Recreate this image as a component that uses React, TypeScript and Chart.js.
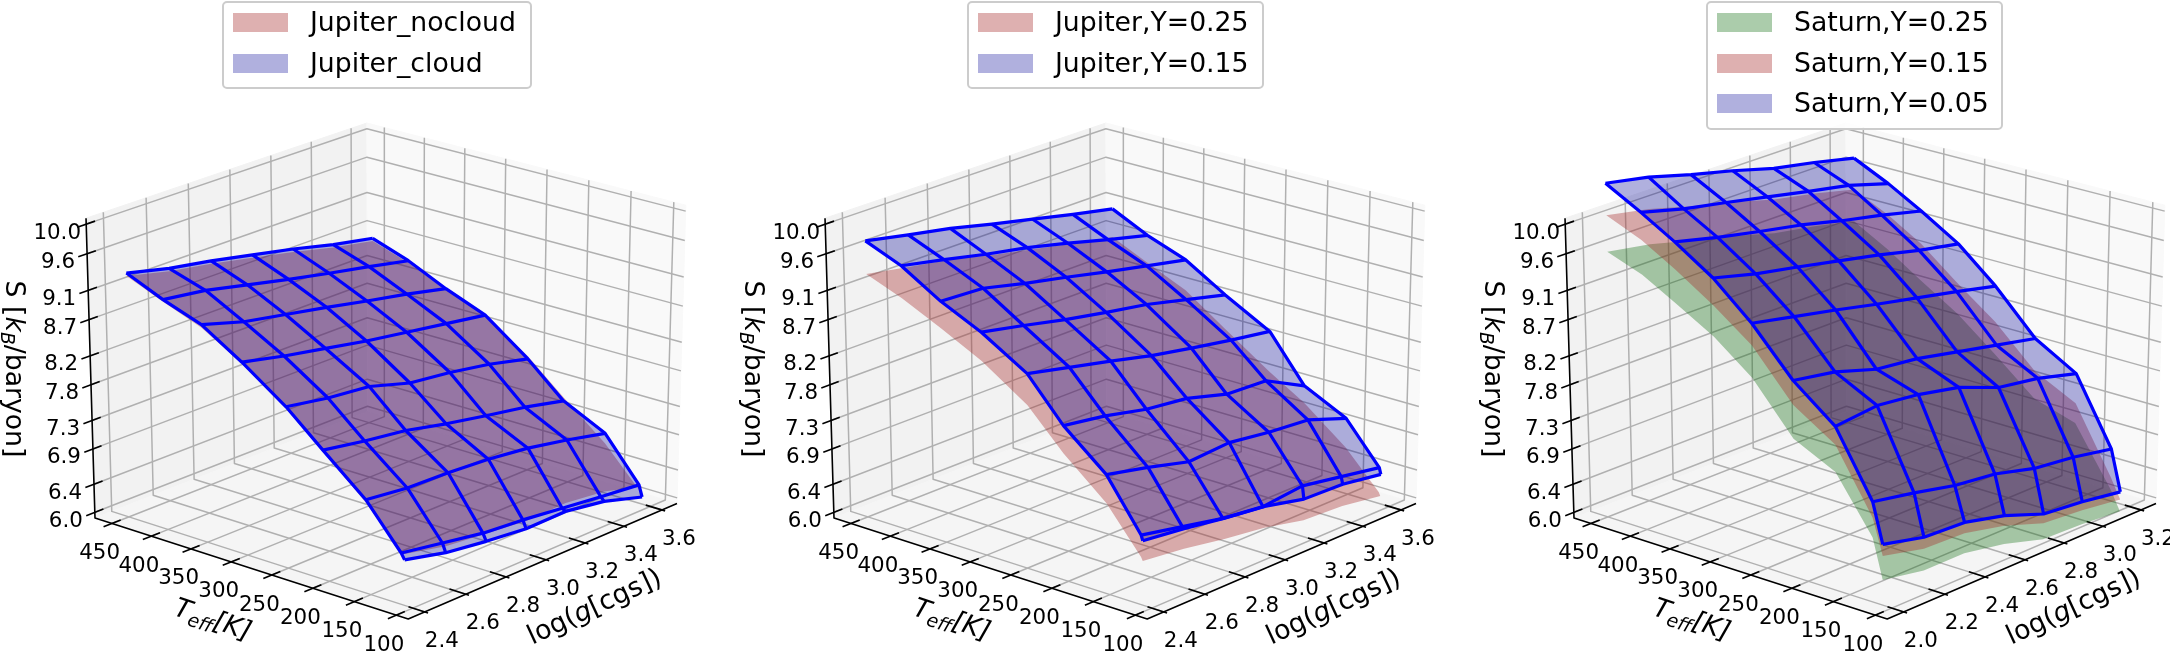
import { useEffect, useRef } from 'react';
import { Chart, registerables } from 'chart.js';

Chart.register(...registerables);

const sTicks = ['10.0', '9.6', '9.1', '8.7', '8.2', '7.8', '7.3', '6.9', '6.4', '6.0'];
const teffTicks = [450, 400, 350, 300, 250, 200, 150, 100];
const loggJupiter = [2.4, 2.6, 2.8, 3.0, 3.2, 3.4, 3.6];
const loggSaturn = [2.0, 2.2, 2.4, 2.6, 2.8, 3.0, 3.2];

const teffPanel1 = [445, 400, 353, 304, 251, 207, 156, 114, 110];
const teffPanel2 = [444, 400, 352, 303, 248, 205, 154, 113, 111];
const teffPanel3 = [442, 399, 358, 312, 266, 217, 167, 123, 111];

const jupiterNocloud = [
  [9.30, 9.16, 9.06, 8.94, 8.82, 8.68, 8.57],
  [9.09, 9.02, 8.88, 8.76, 8.63, 8.52, 8.40],
  [8.89, 8.72, 8.62, 8.51, 8.40, 8.29, 8.16],
  [8.56, 8.44, 8.33, 8.23, 8.13, 8.05, 7.96],
  [8.15, 8.05, 8.00, 7.85, 7.78, 7.69, 7.55],
  [7.70, 7.61, 7.53, 7.41, 7.32, 7.22, 7.11],
  [7.17, 7.08, 7.05, 6.99, 6.90, 6.77, 6.63],
  [6.65, 6.54, 6.42, 6.36, 6.27, 6.19, 6.11],
  [6.63, 6.50, 6.44, 6.38, 6.40, 6.33, 6.17],
];
const jupiterCloud = [
  [9.34, 9.20, 9.10, 8.98, 8.86, 8.72, 8.61],
  [9.12, 9.04, 8.91, 8.78, 8.66, 8.55, 8.43],
  [8.93, 8.76, 8.65, 8.54, 8.42, 8.31, 8.18],
  [8.58, 8.45, 8.34, 8.23, 8.14, 8.05, 7.96],
  [8.15, 8.05, 7.99, 7.82, 7.75, 7.65, 7.51],
  [7.71, 7.61, 7.53, 7.40, 7.29, 7.19, 7.06],
  [7.21, 7.14, 7.12, 7.08, 7.01, 6.90, 6.77],
  [6.63, 6.53, 6.43, 6.38, 6.31, 6.24, 6.18],
  [6.55, 6.41, 6.33, 6.27, 6.28, 6.19, 6.02],
];
const jupiterY25 = [
  [9.33, 9.22, 9.12, 8.98, 8.86, 8.74, 8.63],
  [9.14, 9.04, 8.91, 8.81, 8.67, 8.53, 8.40],
  [8.88, 8.84, 8.70, 8.56, 8.43, 8.30, 8.16],
  [8.60, 8.46, 8.32, 8.19, 8.08, 7.93, 7.77],
  [8.18, 8.04, 7.88, 7.72, 7.58, 7.46, 7.34],
  [7.67, 7.60, 7.50, 7.45, 7.31, 7.30, 7.04],
  [7.17, 7.03, 6.88, 6.91, 6.83, 6.78, 6.58],
  [6.58, 6.45, 6.32, 6.24, 6.29, 6.18, 6.08],
  [6.53, 6.46, 6.36, 6.28, 6.15, 6.12, 6.03],
];
const jupiterY15 = [
  [9.78, 9.66, 9.55, 9.41, 9.28, 9.15, 9.03],
  [9.58, 9.46, 9.33, 9.22, 9.08, 8.93, 8.79],
  [9.25, 9.22, 9.08, 8.96, 8.83, 8.71, 8.59],
  [8.99, 8.87, 8.74, 8.63, 8.53, 8.39, 8.25],
  [8.61, 8.48, 8.35, 8.21, 8.10, 8.00, 7.91],
  [8.05, 7.96, 7.83, 7.76, 7.60, 7.57, 7.28],
  [7.56, 7.43, 7.28, 7.32, 7.24, 7.19, 6.99],
  [6.88, 6.76, 6.64, 6.57, 6.63, 6.53, 6.43],
  [6.81, 6.74, 6.65, 6.58, 6.45, 6.43, 6.34],
];
const saturnY25 = [
  [9.64, 9.54, 9.39, 9.25, 9.09, 8.99, 8.86],
  [9.46, 9.30, 9.18, 9.04, 8.90, 8.77, 8.59],
  [9.20, 9.03, 8.88, 8.75, 8.59, 8.44, 8.28],
  [8.90, 8.72, 8.58, 8.43, 8.27, 8.09, 7.95],
  [8.49, 8.33, 8.18, 8.01, 7.86, 7.70, 7.53],
  [7.83, 7.73, 7.53, 7.46, 7.32, 7.19, 7.06],
  [7.55, 7.60, 7.52, 7.38, 7.14, 7.04, 6.88],
  [6.81, 6.69, 6.54, 6.46, 6.30, 6.21, 6.09],
  [6.27, 6.16, 6.16, 6.05, 5.88, 5.86, 5.81],
];
const saturnY15 = [
  [10.13, 10.02, 9.86, 9.72, 9.56, 9.45, 9.31],
  [9.93, 9.77, 9.65, 9.52, 9.38, 9.25, 9.08],
  [9.66, 9.50, 9.36, 9.24, 9.09, 8.95, 8.80],
  [9.32, 9.14, 9.00, 8.85, 8.69, 8.52, 8.38],
  [8.93, 8.78, 8.63, 8.46, 8.31, 8.15, 7.99],
  [8.29, 8.18, 7.97, 7.88, 7.73, 7.59, 7.45],
  [7.92, 7.96, 7.86, 7.70, 7.46, 7.34, 7.16],
  [7.08, 6.94, 6.78, 6.68, 6.50, 6.40, 6.26],
  [6.60, 6.46, 6.44, 6.31, 6.11, 6.06, 5.98],
];
const saturnY05 = [
  [10.56, 10.45, 10.29, 10.15, 9.99, 9.88, 9.75],
  [10.30, 10.15, 10.04, 9.92, 9.80, 9.69, 9.52],
  [10.03, 9.89, 9.77, 9.66, 9.52, 9.40, 9.26],
  [9.69, 9.54, 9.43, 9.31, 9.19, 9.05, 8.94],
  [9.23, 9.11, 8.99, 8.86, 8.74, 8.62, 8.49],
  [8.62, 8.52, 8.34, 8.27, 8.15, 8.03, 7.91],
  [8.17, 8.23, 8.16, 8.04, 7.82, 7.73, 7.58],
  [7.30, 7.19, 7.06, 6.99, 6.84, 6.77, 6.66],
  [6.76, 6.62, 6.59, 6.45, 6.24, 6.18, 6.09],
];

const RED = 'rgba(165,42,42,.37)';
const BLUE = 'rgba(0,0,150,.31)';
const GREEN = 'rgba(0,100,0,.33)';

const panels = [
  {
    left: 0, logg: loggJupiter, teff: teffPanel1, wire: jupiterCloud,
    under: [{ s: jupiterNocloud, color: RED }],
    legendLeft: 222, legendWidth: 310,
    legend: [['Jupiter_nocloud', RED], ['Jupiter_cloud', BLUE]],
  },
  {
    left: 739, logg: loggJupiter, teff: teffPanel2, wire: jupiterY15,
    under: [{ s: jupiterY25, color: RED }],
    legendLeft: 967, legendWidth: 297,
    legend: [['Jupiter,Y=0.25', RED], ['Jupiter,Y=0.15', BLUE]],
  },
  {
    left: 1479, logg: loggSaturn, teff: teffPanel3, wire: saturnY05,
    under: [{ s: saturnY25, color: GREEN }, { s: saturnY15, color: RED }],
    legendLeft: 1706, legendWidth: 297,
    legend: [['Saturn,Y=0.25', GREEN], ['Saturn,Y=0.15', RED], ['Saturn,Y=0.05', BLUE]],
  },
];

// camera of the 3d box, same for all three panels
const ELEV = 25;
const AZIM = 221;
const DIST = 14;
const RAD = Math.PI / 180;
const TEFF_BOX = [86, 472];
const S_BOX = [5.92, 10.08];
const LOGG_PAD = 0.08;
const WIDTH = 700;
const HEIGHT = 656;
const FONT = '"DejaVu Sans"';

const n = [Math.cos(AZIM * RAD) * Math.cos(ELEV * RAD), Math.sin(AZIM * RAD) * Math.cos(ELEV * RAD), Math.sin(ELEV * RAD)];
const nLen = Math.hypot(n[0], n[1]);
const u = [-n[1] / nLen, n[0] / nLen, 0];
const v = [-n[2] * u[1], n[2] * u[0], n[0] * u[1] - n[1] * u[0]];

function view(x: number, y: number, z: number) {
  const p = [x - 0.5, y - 0.5, z - 0.5];
  const dot = (a: number[]) => a[0] * p[0] + a[1] * p[1] + a[2] * p[2];
  const w = DIST - dot(n);
  return { x: dot(u) / w, y: dot(v) / w };
}

// where the box corners fall in a panel decides the hidden scales' ranges
function scaleRanges() {
  const left = view(0, 1, 0);
  const right = view(1, 0, 0);
  const top = view(1, 1, 1);
  const front = view(0, 0, 0);
  const sx = (677 - 95) / (right.x - left.x);
  const cx = 95 - sx * left.x;
  const sy = (619 - 123) / (top.y - front.y);
  const cy = 619 + sy * front.y;
  return {
    x: { min: (0 - cx) / sx, max: (WIDTH - cx) / sx },
    y: { min: (cy - HEIGHT) / sy, max: cy / sy },
  };
}

type Run = { t: string; f: string; dy?: number };

function drawRuns(ctx: CanvasRenderingContext2D, x: number, y: number, angle: number, runs: Run[]) {
  ctx.save();
  ctx.translate(x, y);
  ctx.rotate(angle);
  ctx.textAlign = 'left';
  ctx.textBaseline = 'alphabetic';
  ctx.fillStyle = '#000';
  let width = 0;
  runs.forEach((r) => {
    ctx.font = r.f;
    width += ctx.measureText(r.t).width;
  });
  let at = -width / 2;
  runs.forEach((r) => {
    ctx.font = r.f;
    ctx.fillText(r.t, at, 9 + (r.dy ?? 0));
    at += ctx.measureText(r.t).width;
  });
  ctx.restore();
}

function Panel({ panel }: { panel: (typeof panels)[number] }) {
  const canvasRef = useRef<HTMLCanvasElement | null>(null);

  useEffect(() => {
    if (!canvasRef.current) return;
    const { logg, teff, wire, under } = panel;
    const gLo = logg[0] - LOGG_PAD;
    const gHi = logg[logg.length - 1] + LOGG_PAD;
    const [tLo, tHi] = TEFF_BOX;
    const [sLo, sHi] = S_BOX;
    const pt = (t: number, g: number, s: number) =>
      view((g - gLo) / (gHi - gLo), (t - tLo) / (tHi - tLo), (s - sLo) / (sHi - sLo));

    const datasets: any[] = [];
    const line = (data: any[], color: string, width: number) =>
      datasets.push({ data, showLine: true, borderColor: color, borderWidth: width, pointRadius: 0, borderJoinStyle: 'round' });
    const polygon = (data: any[], color: string, border = 0) =>
      datasets.push({ data, showLine: true, fill: 'shape', backgroundColor: color, borderColor: color, borderWidth: border, pointRadius: 0 });

    polygon([pt(tHi, gLo, sLo), pt(tHi, gHi, sLo), pt(tHi, gHi, sHi), pt(tHi, gLo, sHi), pt(tHi, gLo, sLo)], 'rgb(242,242,242)', 1);
    polygon([pt(tHi, gHi, sLo), pt(tLo, gHi, sLo), pt(tLo, gHi, sHi), pt(tHi, gHi, sHi), pt(tHi, gHi, sLo)], 'rgb(249,249,249)', 1);
    polygon([pt(tHi, gLo, sLo), pt(tLo, gLo, sLo), pt(tLo, gHi, sLo), pt(tHi, gHi, sLo), pt(tHi, gLo, sLo)], 'rgb(245,245,245)', 1);

    teffTicks.forEach((t) => line([pt(t, gLo, sLo), pt(t, gHi, sLo), pt(t, gHi, sHi)], '#b0b0b0', 1.5));
    logg.forEach((g) => line([pt(tLo, g, sLo), pt(tHi, g, sLo), pt(tHi, g, sHi)], '#b0b0b0', 1.5));
    sTicks.forEach((s) => line([pt(tHi, gLo, +s), pt(tHi, gHi, +s), pt(tLo, gHi, +s)], '#b0b0b0', 1.5));

    line([pt(tHi, gLo, sHi), pt(tHi, gLo, sLo), pt(tLo, gLo, sLo), pt(tLo, gHi, sLo)], '#000', 1.6);
    const gSpan = gHi - gLo;
    const tSpan = tHi - tLo;
    teffTicks.forEach((t) => line([pt(t, gLo - 0.03 * gSpan, sLo), pt(t, gLo + 0.03 * gSpan, sLo)], '#000', 1.6));
    logg.forEach((g) => line([pt(tLo - 0.01 * tSpan, g, sLo), pt(tLo + 0.05 * tSpan, g, sLo)], '#000', 1.6));
    sTicks.forEach((s) => line([pt(tHi, gLo - 0.03 * gSpan, +s), pt(tHi, gLo + 0.03 * gSpan, +s)], '#000', 1.6));

    const outline = (s: number[][]) => {
      const last = s.length - 1;
      const end = logg.length - 1;
      const out: any[] = [];
      logg.forEach((g, j) => out.push(pt(teff[0], g, s[0][j])));
      for (let i = 1; i <= last; i++) out.push(pt(teff[i], logg[end], s[i][end]));
      for (let j = end - 1; j >= 0; j--) out.push(pt(teff[last], logg[j], s[last][j]));
      for (let i = last - 1; i >= 0; i--) out.push(pt(teff[i], logg[0], s[i][0]));
      return out;
    };
    under.forEach((surface) => polygon(outline(surface.s), surface.color));
    polygon(outline(wire), BLUE);
    teff.forEach((t, i) => line(logg.map((g, j) => pt(t, g, wire[i][j])), '#0000ff', 3.2));
    logg.forEach((g, j) => line(teff.map((t, i) => pt(t, g, wire[i][j])), '#0000ff', 3.2));

    // chart.js paints the first dataset last
    datasets.reverse();

    const ranges = scaleRanges();
    const chart = new Chart(canvasRef.current, {
      type: 'scatter',
      data: { datasets },
      plugins: [{
        id: 'axisText',
        afterDraw(c: any) {
          const ctx = c.ctx as CanvasRenderingContext2D;
          const at = (p: { x: number; y: number }) => [c.scales.x.getPixelForValue(p.x), c.scales.y.getPixelForValue(p.y)];
          ctx.save();
          ctx.font = `21.4px ${FONT}`;
          ctx.fillStyle = '#000';
          ctx.textAlign = 'center';
          ctx.textBaseline = 'middle';
          sTicks.forEach((s) => {
            const [x, y] = at(pt(tHi, gLo, +s));
            ctx.fillText(s, x - 29, y + 9);
          });
          teffTicks.forEach((t) => {
            const [x, y] = at(pt(t, gLo, sLo));
            ctx.fillText(String(t), x - 12.5, y + 30);
          });
          logg.forEach((g) => {
            const [x, y] = at(pt(tLo, g, sLo));
            ctx.fillText(g.toFixed(1), x + 17, y + 29.5);
          });
          ctx.restore();
          const big = `26.7px ${FONT}`;
          const italic = `italic 26.7px ${FONT}`;
          const sub = `italic 18.7px ${FONT}`;
          drawRuns(ctx, 15, 369, Math.PI / 2, [{ t: 'S [', f: big }, { t: 'k', f: italic }, { t: 'B', f: sub, dy: 5 }, { t: '/baryon]', f: big }]);
          drawRuns(ctx, 213, 619, 18.6 * RAD, [{ t: 'T', f: italic }, { t: 'eff', f: sub, dy: 5 }, { t: '[K]', f: italic }]);
          drawRuns(ctx, 594, 606, -25 * RAD, [{ t: 'log(', f: big }, { t: 'g', f: italic }, { t: '[cgs])', f: big }]);
        },
      }],
      options: {
        animation: false,
        responsive: false,
        devicePixelRatio: 1,
        layout: { padding: 0 },
        plugins: { legend: { display: false }, tooltip: { enabled: false } },
        scales: {
          x: { type: 'linear', display: false, ...ranges.x },
          y: { type: 'linear', display: false, ...ranges.y },
        },
      },
    } as any);

    return () => chart.destroy();
  }, [panel]);

  return (
    <canvas
      ref={canvasRef}
      width={WIDTH}
      height={HEIGHT}
      style={{ position: 'absolute', left: panel.left, top: 0, width: WIDTH, height: HEIGHT }}
    />
  );
}

function Legend({ left, width, items }: { left: number; width: number; items: string[][] }) {
  return (
    <div
      style={{
        position: 'absolute', left, top: 1, width, height: items.length * 40.5 + 7, boxSizing: 'border-box',
        border: '2px solid #ccc', borderRadius: 5, background: 'rgba(255,255,255,.8)', font: `26.7px ${FONT}`,
      }}
    >
      {items.map(([label, color], i) => (
        <div key={label} style={{ position: 'absolute', left: 0, top: i * 40.5, height: 40, width: '100%' }}>
          <span style={{ position: 'absolute', left: 9, top: 10, width: 55, height: 19, background: color }} />
          <span style={{ position: 'absolute', left: 86, top: 3, lineHeight: '32px', whiteSpace: 'nowrap' }}>{label}</span>
        </div>
      ))}
    </div>
  );
}

export default function App() {
  return (
    <div style={{ position: 'absolute', left: 0, top: 0, width: 2170, height: 656, overflow: 'hidden', background: '#fff' }}>
      {panels.map((p) => <Panel key={p.left} panel={p} />)}
      {panels.map((p) => <Legend key={p.left} left={p.legendLeft} width={p.legendWidth} items={p.legend} />)}
    </div>
  );
}
